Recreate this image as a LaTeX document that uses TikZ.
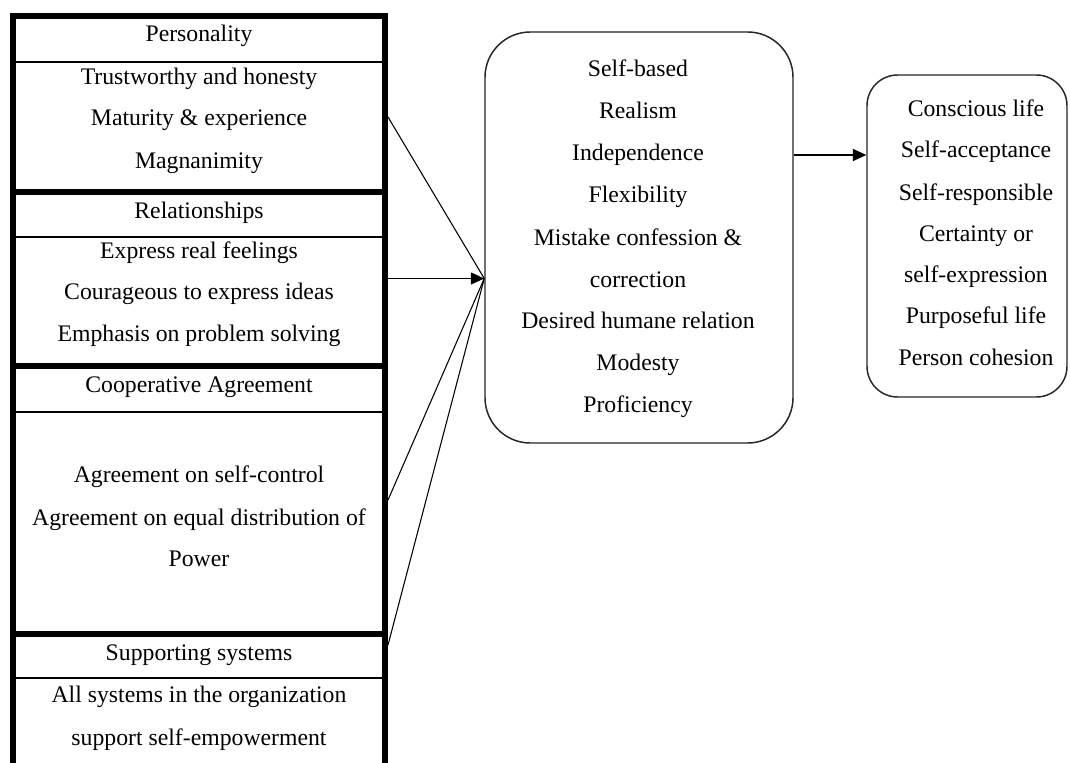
\documentclass[tikz,border=0pt]{standalone}
\usepackage{fontspec}
\setmainfont{Liberation Serif}
\usetikzlibrary{fit,arrows.meta}
\begin{document}
\begin{tikzpicture}[x=0.75pt,y=-0.75pt,
  sect/.style={draw, line width=4.5pt, inner sep=0pt},
  divider/.style={line width=1.1pt},
  rbox/.style={draw=black!85, line width=1.1pt, inner sep=0pt},
  txt/.style={anchor=base, inner sep=0pt, font=\fontsize{17.8}{20}\selectfont},
  conn/.style={line width=0.8pt},
  tip/.style={-{Triangle[length=10pt,width=9pt]}}
]
\useasboundingbox (0,0) rectangle (1070,763);
\clip (0,0) rectangle (1070,763);
\fill[white] (0,0) rectangle (1070,763);

% left stack
\node[sect, fit={(13,16) (385,191.5)}] (pers) {};
\node[sect, fit={(13,191.5) (385,365.5)}] (rel) {};
\node[sect, fit={(13,365.5) (385,634)}] (coop) {};
\node[sect, fit={(13,634) (385,820)}] (supp) {};
\draw[divider] (pers.west |- 0,62) -- (pers.east |- 0,62);
\draw[divider] (rel.west |- 0,237) -- (rel.east |- 0,237);
\draw[divider] (coop.west |- 0,412) -- (coop.east |- 0,412);
\draw[divider] (supp.west |- 0,678) -- (supp.east |- 0,678);

\node[txt] (persh) at (199,42) {Personality};
\foreach \t/\y [count=\i] in {Trustworthy and honesty/85, Maturity \& experience/126, Magnanimity/168}
  \node[txt] (pt\i) at (199,\y) {\t};
\node[txt] (relh) at (199,218) {Relationships};
\foreach \t/\y [count=\i] in {Express real feelings/258, Courageous to express ideas/299, Emphasis on problem solving/341}
  \node[txt] (rt\i) at (199,\y) {\t};
\node[txt] (cooph) at (199,392) {Cooperative Agreement};
\foreach \t/\y [count=\i] in {Agreement on self-control/482, Agreement on equal distribution of/525, Power/566}
  \node[txt] (ct\i) at (199,\y) {\t};
\node[txt] (supph) at (199,660) {Supporting systems};
\foreach \t/\y [count=\i] in {All systems in the organization/702, support self-empowerment/745}
  \node[txt] (st\i) at (199,\y) {\t};

% middle box
\node[rbox, rounded corners=34pt, fit={(485,32) (793,443)}] (mid) {};
\foreach \t/\y [count=\i] in {Self-based/77, Realism/119, Independence/161, Flexibility/202, Mistake confession \&/245, correction/287, Desired humane relation/328, Modesty/370, Proficiency/412}
  \node[txt] (mt\i) at (638,\y) {\t};

% right box
\node[rbox, rounded corners=23pt, fit={(867,75) (1067,397)}] (rt) {};
\foreach \t/\y [count=\i] in {Conscious life/117, Self-acceptance/158, Self-responsible/200, Certainty or/241, self-expression/282, Purposeful life/323, Person cohesion/365}
  \node[txt] (rtt\i) at (976,\y) {\t};

% connectors
\coordinate (p1) at (pers.east |- 0,117);
\coordinate (c1) at (coop.east |- 0,500);
\coordinate (s1) at (supp.east |- 0,645);
\coordinate (m1) at (mid.west |- rel.east);
\draw[conn] (p1) -- (m1);
\draw[conn] (c1) -- (m1);
\draw[conn] (s1) -- (m1);
\draw[conn,tip] (rel.east) -- (m1);
\coordinate (m2) at (mid.east |- 0,155);
\coordinate (r2) at (rt.west |- 0,155);
\draw[conn,tip] (m2) -- (r2);
\end{tikzpicture}
\end{document}
